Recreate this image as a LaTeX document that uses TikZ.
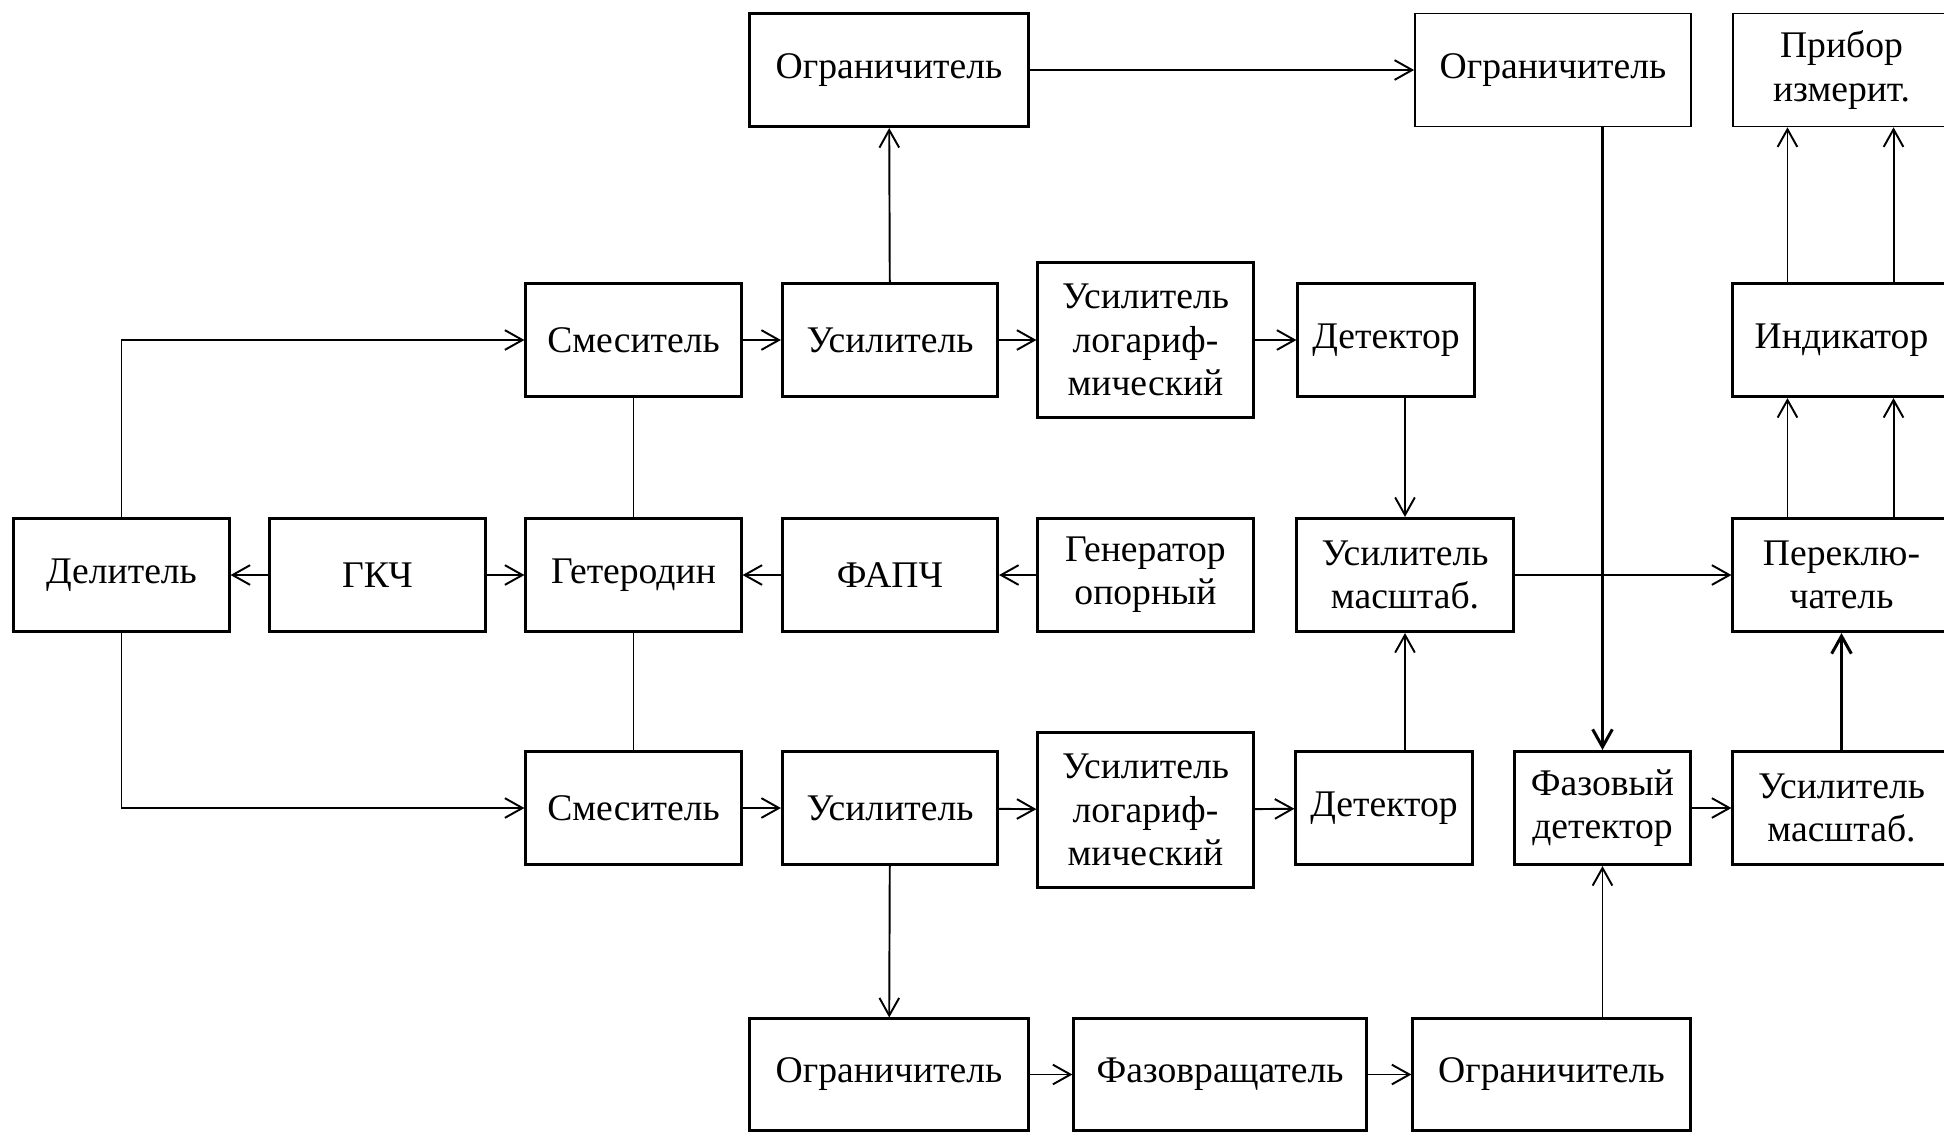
\documentclass[tikz,border=0pt]{standalone}
\usepackage{fontspec}
\setmainfont{Liberation Serif}
\usetikzlibrary{arrows.meta,positioning}

\begin{document}
\begin{tikzpicture}[x=0.01cm, y=-0.01cm,
    blk/.style={draw, line width=0.85pt, minimum width=2.15cm, minimum height=1.13cm, align=center, inner sep=1pt, font=\fontsize{10.7}{12.3}\selectfont},
    tblk/.style={blk, line width=0.45pt},
    arr/.style={-{Straight Barb[length=5pt, width=5.6pt]}, line width=0.55pt},
    barr/.style={arr, line width=0.85pt},
    ln/.style={line width=0.55pt}
]
\useasboundingbox (0,0) rectangle (1944,1132);
\clip (0,0) rectangle (1944,1132);

\node[blk] (DEL) at (121.5,575) {Делитель};
\node[blk] (GKCH) at (377.5,575) {ГКЧ};
\node[blk] (GET) at (633.5,575) {Гетеродин};
\node[blk] (FAPCH) at (890,575) {ФАПЧ};
\node[blk] (GEN) at (1145.5,575) {Генератор\\опорный};
\node[blk, minimum width=2.16cm] (UM1) at (1405,575) {Усилитель\\масштаб.};
\node[blk, minimum width=2.17cm] (PER) at (1841.5,575) {Переклю-\\чатель};

\node[blk] (SM1) at (633.5,340) {Смеситель};
\node[blk] (US1) at (890,340) {Усилитель};
\node[blk, minimum height=1.54cm] (UL1) at (1145.5,340) {Усилитель\\логариф-\\мический};
\node[blk, minimum width=1.76cm] (DET1) at (1386,340) {Детектор};
\node[blk, minimum width=2.17cm] (IND) at (1841.5,340) {Индикатор};

\node[blk, minimum width=2.78cm] (OG1) at (889,70) {Ограничитель};
\node[tblk, minimum width=2.76cm] (OG2) at (1553,70) {Ограничитель};
\node[tblk, minimum width=2.17cm] (PRIB) at (1841.5,70) {Прибор\\измерит.};

\node[blk] (SM2) at (633.5,808) {Смеситель};
\node[blk] (US2) at (890,808) {Усилитель};
\node[blk, minimum height=1.54cm] (UL2) at (1145.5,810) {Усилитель\\логариф-\\мический};
\node[blk, minimum width=1.76cm] (DET2) at (1384,808) {Детектор};
\node[blk, minimum width=1.75cm] (FD) at (1602.5,808) {Фазовый\\детектор};
\node[blk, minimum width=2.17cm] (UM2) at (1841.5,808) {Усилитель\\масштаб.};

\node[blk, minimum width=2.78cm, minimum height=1.11cm] (OG3) at (889,1074.5) {Ограничитель};
\node[blk, minimum width=2.92cm, minimum height=1.11cm] (FVR) at (1220,1074.5) {Фазовращатель};
\node[blk, minimum width=2.77cm, minimum height=1.11cm] (OG4) at (1551.5,1074.5) {Ограничитель};

\draw[arr] (GKCH) -- (DEL);
\draw[arr] (GKCH) -- (GET);
\draw[arr] (FAPCH) -- (GET);
\draw[arr] (GEN) -- (FAPCH);
\draw[arr] (DEL.north) |- (SM1.west);
\draw[arr] (DEL.south) |- (SM2.west);
\draw[ln] (SM1) -- (GET);
\draw[ln] (GET) -- (SM2);

\draw[arr] (SM1) -- (US1);
\draw[arr] (US1) -- (UL1);
\draw[arr] (UL1) -- (DET1);
\draw[arr] (SM2) -- (US2);
\draw[arr] (US2) -- (UL2);
\draw[arr] (UL2) -- (DET2);

\draw[arr] (US1) -- (OG1);
\draw[arr] (OG1) -- (OG2);
\draw[barr] (FD.north |- OG2.south) -- (FD.north);
\draw[arr] (UM1.north |- DET1.south) -- (UM1.north);
\draw[arr] (UM1.south |- DET2.north) -- (UM1.south);
\draw[arr] (UM1) -- (PER);
\draw[arr] (FD) -- (UM2);
\draw[barr] (UM2) -- (PER);
\draw[arr] ([xshift=-0.54cm]PER.north) -- ([xshift=-0.54cm]IND.south);
\draw[arr] ([xshift=0.52cm]PER.north) -- ([xshift=0.52cm]IND.south);
\draw[arr] ([xshift=-0.54cm]IND.north) -- ([xshift=-0.54cm]PRIB.south);
\draw[arr] ([xshift=0.52cm]IND.north) -- ([xshift=0.52cm]PRIB.south);

\draw[arr] (US2) -- (OG3);
\draw[arr] (OG3) -- (FVR);
\draw[arr] (FVR) -- (OG4);
\draw[arr] (FD.south |- OG4.north) -- (FD.south);
\end{tikzpicture}
\end{document}
